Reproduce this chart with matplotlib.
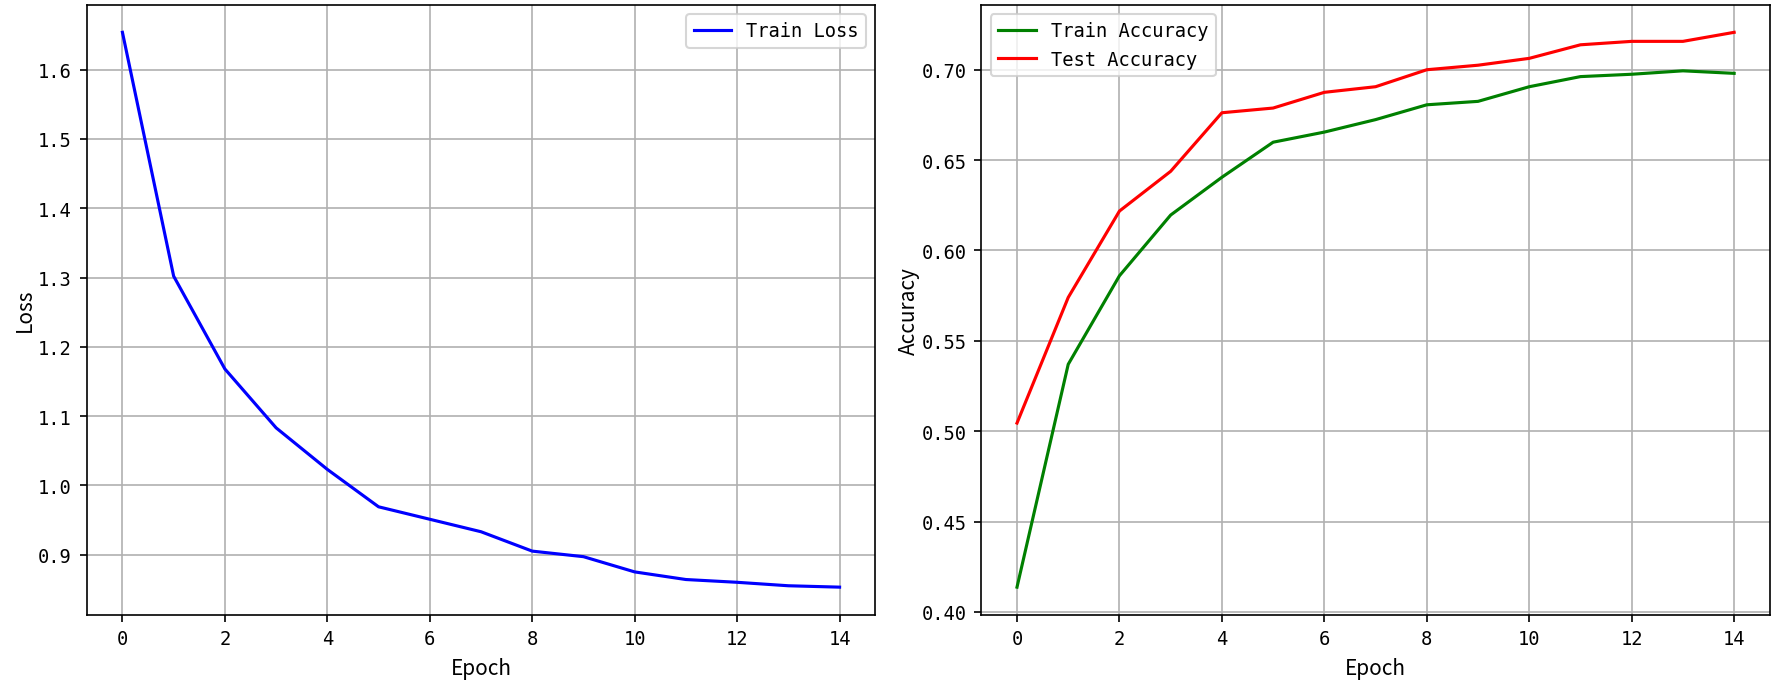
import matplotlib
matplotlib.use('Agg')
import matplotlib.pyplot as plt

epochs = list(range(15))
train_loss = [1.654, 1.302, 1.168, 1.083, 1.023, 0.969, 0.951, 0.933,
              0.905, 0.897, 0.875, 0.864, 0.860, 0.855, 0.853]
train_acc = [0.4137, 0.537, 0.586, 0.6196, 0.6405, 0.6599, 0.6655, 0.6724,
             0.6806, 0.6825, 0.6906, 0.6962, 0.6975, 0.6994, 0.6980]
test_acc = [0.5045, 0.574, 0.6218, 0.6438, 0.6762, 0.6788, 0.6875, 0.6906,
            0.7000, 0.7025, 0.7063, 0.7138, 0.7157, 0.7157, 0.7207]

mono = 'DejaVu Sans Mono'
label_font = ['Noto Sans CJK SC', 'DejaVu Sans']

fig, (ax1, ax2) = plt.subplots(1, 2, figsize=(11.9, 4.613), dpi=150)
fig.subplots_adjust(left=0.0485, right=0.9916, bottom=0.110, top=0.992, wspace=0.134)

ax1.plot(epochs, train_loss, color='blue', label='Train Loss')
ax1.set_xlabel('Epoch', family=label_font, fontsize=10)
ax1.set_ylabel('Loss', family=label_font, fontsize=10, labelpad=1)
ax1.grid(True)
ax1.legend(loc='upper right', prop={'family': mono, 'size': 9})

ax2.plot(epochs, train_acc, color='green', label='Train Accuracy')
ax2.plot(epochs, test_acc, color='red', label='Test Accuracy')
ax2.set_xlabel('Epoch', family=label_font, fontsize=10)
ax2.set_ylabel('Accuracy', family=label_font, fontsize=10, labelpad=1)
ax2.grid(True)
ax2.legend(loc='upper left', prop={'family': mono, 'size': 9})

ax1.yaxis.set_major_formatter(plt.FormatStrFormatter('%.1f'))
ax2.yaxis.set_major_formatter(plt.FormatStrFormatter('%.2f'))

for ax in (ax1, ax2):
    ax.set_xticks(range(0, 15, 2))
    for lab in ax.get_xticklabels() + ax.get_yticklabels():
        lab.set_family(mono)
        lab.set_fontsize(9)

fig.savefig('out.png', dpi=150)
